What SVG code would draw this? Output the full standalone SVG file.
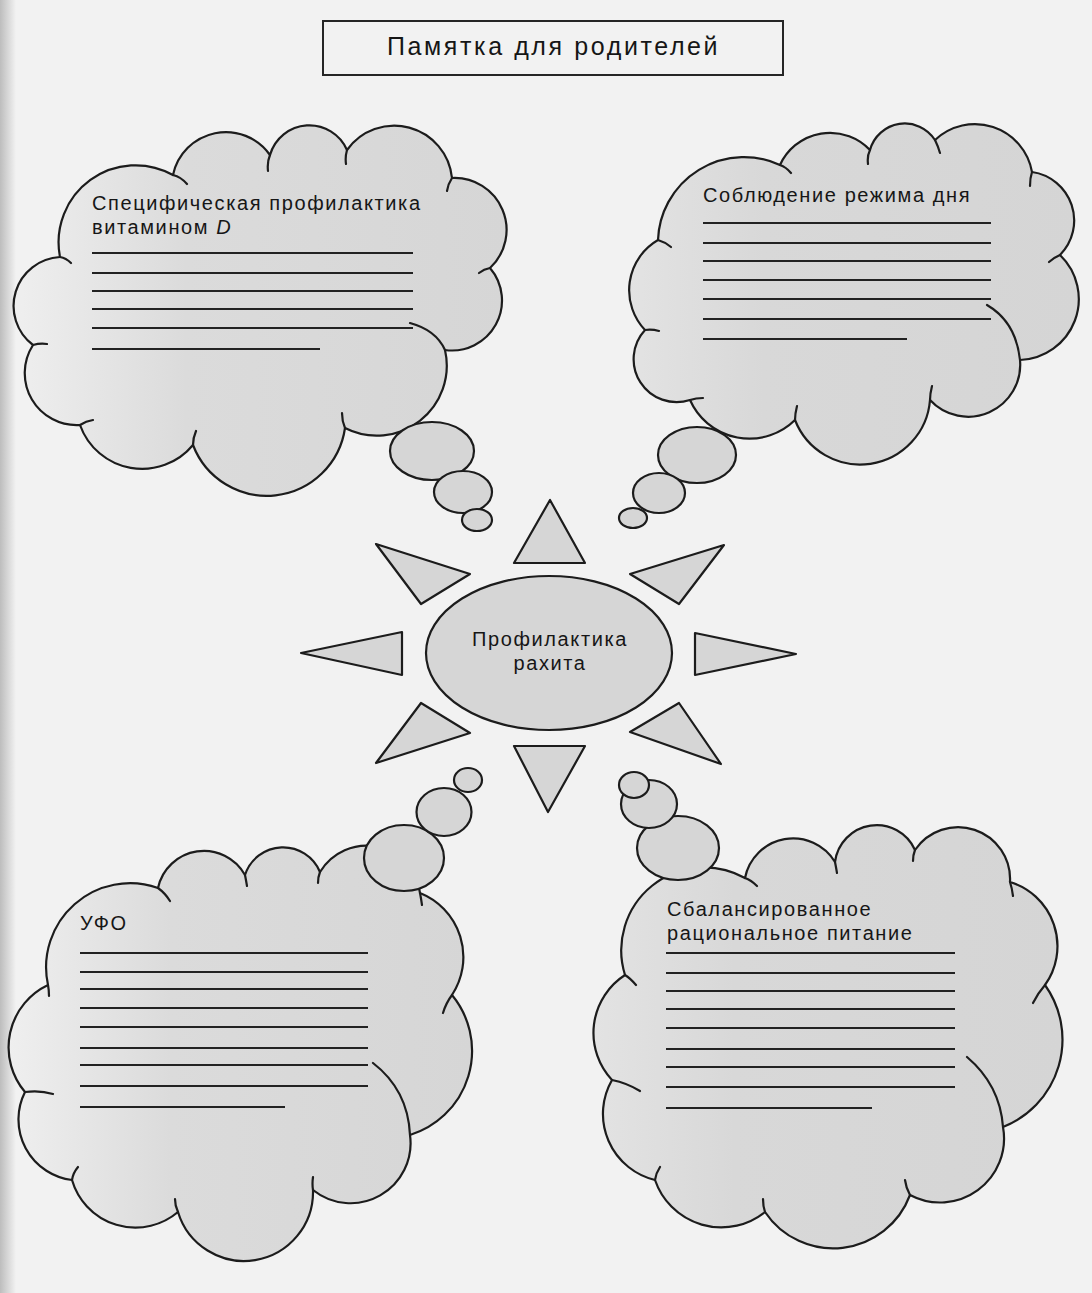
<svg xmlns="http://www.w3.org/2000/svg" width="1092" height="1293" viewBox="0 0 1092 1293">
<defs>
<linearGradient id="pageEdge" x1="0" y1="0" x2="1" y2="0">
<stop offset="0" stop-color="#bdbdbd"/>
<stop offset="1" stop-color="#f2f2f2"/>
</linearGradient>
<linearGradient id="cloudFill" x1="0" y1="0" x2="1" y2="0">
<stop offset="0" stop-color="#efefef"/>
<stop offset="0.35" stop-color="#dbdbdb"/>
<stop offset="1" stop-color="#d6d6d6"/>
</linearGradient>
<linearGradient id="cloudFill2" x1="0" y1="0" x2="1" y2="0">
<stop offset="0" stop-color="#e3e3e3"/>
<stop offset="0.3" stop-color="#d8d8d8"/>
<stop offset="1" stop-color="#d5d5d5"/>
</linearGradient>
</defs>
<style>
.outline{stroke:#1c1c1c;stroke-width:2.2;stroke-linejoin:round;stroke-linecap:round}
.shape{fill:#d6d6d6;stroke:#1c1c1c;stroke-width:2.2;stroke-linejoin:round}
.tail{fill:none;stroke:#1c1c1c;stroke-width:2.2;stroke-linecap:round}
.rule{stroke:#222;stroke-width:1.8}
.lbl{font-family:"Liberation Sans",Arial,sans-serif;font-size:20px;letter-spacing:1.6px;fill:#161616}
.title{font-family:"Liberation Sans",Arial,sans-serif;font-size:25px;letter-spacing:2.6px;fill:#161616}
</style>
<rect x="0" y="0" width="1092" height="1293" fill="#f2f2f2"/>
<rect x="0" y="0" width="16" height="1293" fill="url(#pageEdge)"/>

<g id="title">
<rect x="323" y="21" width="460" height="54" fill="none" stroke="#262626" stroke-width="2"/>
<text class="title" x="387" y="55">Памятка для родителей</text>
</g>

<g id="cloud-vitamin-d">
<path class="outline" fill="url(#cloudFill)" d="M 60 257 A 77 77 0 0 1 173 175 A 54 54 0 0 1 270 155 A 41 41 0 0 1 347 150 A 58 58 0 0 1 452 178 A 52 52 0 0 1 490 268 A 50 50 0 0 1 445 350 A 70 70 0 0 1 345 428 A 79 79 0 0 1 193 445 A 66 66 0 0 1 80 425 A 52 52 0 0 1 33 345 A 49 49 0 0 1 60 257 Z"/>
<path class="tail" d="M 173 175 Q 181 177 187 184 M 270 155 Q 267 162 268 171 M 347 150 Q 345 157 346 164 M 452 178 Q 448 184 447 191 M 490 268 Q 484 269 479 273 M 345 428 Q 342 421 342 413 M 193 445 Q 193 438 196 431 M 80 425 Q 86 421 93 420 M 33 345 Q 40 343 47 344 M 60 257 Q 66 258 71 263 M 410 323 Q 436 330 445 350"/>
<text class="lbl" x="92" y="210">Специфическая профилактика</text>
<text class="lbl" x="92" y="234">витамином <tspan font-style="italic">D</tspan></text>
<g class="rule">
<line x1="92" y1="253" x2="413" y2="253"/>
<line x1="92" y1="273" x2="413" y2="273"/>
<line x1="92" y1="291" x2="413" y2="291"/>
<line x1="92" y1="309" x2="413" y2="309"/>
<line x1="92" y1="328" x2="413" y2="328"/>
<line x1="92" y1="349" x2="320" y2="349"/>
</g>
</g>

<g id="cloud-regime">
<path class="outline" fill="url(#cloudFill2)" d="M 658 240 A 86 86 0 0 1 780 165 A 55 55 0 0 1 870 150 A 36 36 0 0 1 935 140 A 58 58 0 0 1 1032 172 A 49 49 0 0 1 1060 255 A 61 61 0 0 1 1020 360 A 52 52 0 0 1 930 400 A 70 70 0 0 1 795 420 A 65 65 0 0 1 690 400 A 43 43 0 0 1 645 330 A 58 58 0 0 1 658 240 Z"/>
<path class="tail" d="M 658 240 Q 665 242 671 247 M 780 165 Q 786 167 791 173 M 870 150 Q 867 156 868 164 M 935 140 Q 938 146 940 153 M 1032 172 Q 1030 178 1030 186 M 1060 255 Q 1055 257 1049 262 M 930 400 Q 930 394 932 386 M 795 420 Q 795 414 797 406 M 690 400 Q 696 398 703 398 M 645 330 Q 652 329 659 331 M 987 305 Q 1016 322 1020 360"/>
<text class="lbl" x="703" y="202">Соблюдение режима дня</text>
<g class="rule">
<line x1="703" y1="223" x2="991" y2="223"/>
<line x1="703" y1="243" x2="991" y2="243"/>
<line x1="703" y1="261" x2="991" y2="261"/>
<line x1="703" y1="280" x2="991" y2="280"/>
<line x1="703" y1="299" x2="991" y2="299"/>
<line x1="703" y1="319" x2="991" y2="319"/>
<line x1="703" y1="339" x2="907" y2="339"/>
</g>
</g>

<g id="cloud-ufo">
<path class="outline" fill="url(#cloudFill)" d="M 48 985 A 84 84 0 0 1 158 888 A 47 47 0 0 1 245 875 A 40 40 0 0 1 320 872 A 54 54 0 0 1 420 893 A 69 69 0 0 1 452 995 A 88 88 0 0 1 410 1135 A 60 60 0 0 1 313 1190 A 69 69 0 0 1 178 1212 A 66 66 0 0 1 72 1180 A 61 61 0 0 1 25 1092 A 69 69 0 0 1 48 985 Z"/>
<path class="tail" d="M 48 985 Q 49 990 49 996 M 158 888 Q 165 893 170 901 M 245 875 Q 246 880 247 886 M 320 872 Q 318 877 318 883 M 420 893 Q 421 898 422 905 M 452 995 Q 446 1003 443 1013 M 313 1190 Q 312 1184 313 1177 M 178 1212 Q 175 1206 175 1199 M 72 1180 Q 73 1173 78 1167 M 25 1092 Q 40 1090 53 1094 M 373 1063 Q 408 1090 410 1135"/>
<text class="lbl" x="80" y="930">УФО</text>
<g class="rule">
<line x1="80" y1="953" x2="368" y2="953"/>
<line x1="80" y1="972" x2="368" y2="972"/>
<line x1="80" y1="989" x2="368" y2="989"/>
<line x1="80" y1="1008" x2="368" y2="1008"/>
<line x1="80" y1="1027" x2="368" y2="1027"/>
<line x1="80" y1="1048" x2="368" y2="1048"/>
<line x1="80" y1="1065" x2="368" y2="1065"/>
<line x1="80" y1="1086" x2="368" y2="1086"/>
<line x1="80" y1="1107" x2="285" y2="1107"/>
</g>
</g>

<g id="cloud-nutrition">
<path class="outline" fill="url(#cloudFill2)" d="M 625 975 A 83 83 0 0 1 745 878 A 49 49 0 0 1 835 862 A 42 42 0 0 1 915 850 A 52 52 0 0 1 1010 882 A 67 67 0 0 1 1045 985 A 94 94 0 0 1 1003 1127 A 64 64 0 0 1 910 1195 A 82 82 0 0 1 765 1212 A 70 70 0 0 1 655 1180 A 68 68 0 0 1 612 1080 A 69 69 0 0 1 625 975 Z"/>
<path class="tail" d="M 625 975 Q 630 978 636 985 M 745 878 Q 751 880 757 886 M 835 862 Q 836 867 837 873 M 915 850 Q 913 855 913 861 M 1010 882 Q 1012 888 1013 896 M 1045 985 Q 1038 993 1033 1003 M 910 1195 Q 906 1188 905 1180 M 765 1212 Q 763 1206 763 1199 M 655 1180 Q 656 1173 660 1167 M 612 1080 Q 627 1083 640 1091 M 967 1057 Q 1000 1085 1003 1127"/>
<text class="lbl" x="667" y="916">Сбалансированное</text>
<text class="lbl" x="667" y="940">рациональное питание</text>
<g class="rule">
<line x1="666" y1="953" x2="955" y2="953"/>
<line x1="666" y1="973" x2="955" y2="973"/>
<line x1="666" y1="991" x2="955" y2="991"/>
<line x1="666" y1="1009" x2="955" y2="1009"/>
<line x1="666" y1="1028" x2="955" y2="1028"/>
<line x1="666" y1="1049" x2="955" y2="1049"/>
<line x1="666" y1="1067" x2="955" y2="1067"/>
<line x1="666" y1="1087" x2="955" y2="1087"/>
<line x1="666" y1="1108" x2="872" y2="1108"/>
</g>
</g>

<g id="center">
<g id="rays">
<polygon class="shape" points="550,500 514,563 585,563"/>
<polygon class="shape" points="376,544 470,574 421,604"/>
<polygon class="shape" points="724,545 630,574 679,604"/>
<polygon class="shape" points="301,653 402,632 402,675"/>
<polygon class="shape" points="796,654 695,633 695,675"/>
<polygon class="shape" points="376,763 421,703 470,733"/>
<polygon class="shape" points="721,764 679,703 630,732"/>
<polygon class="shape" points="548,812 514,746 585,746"/>
</g>
<ellipse class="shape" cx="549" cy="653" rx="123" ry="77"/>
<text class="lbl" x="550" y="646" text-anchor="middle" letter-spacing="2">Профилактика</text>
<text class="lbl" x="550" y="670" text-anchor="middle" letter-spacing="1.6">рахита</text>
</g>

<g id="connectors">
<g id="bubbles-vitamin-d">
<ellipse class="shape" cx="432" cy="451" rx="42" ry="29"/>
<ellipse class="shape" cx="463" cy="492" rx="29" ry="21"/>
<ellipse class="shape" cx="477" cy="520" rx="15" ry="11"/>
</g>
<g id="bubbles-regime">
<ellipse class="shape" cx="697" cy="455" rx="39" ry="28"/>
<ellipse class="shape" cx="659" cy="493" rx="26" ry="20"/>
<ellipse class="shape" cx="633" cy="518" rx="14" ry="10"/>
</g>
<g id="bubbles-ufo">
<ellipse class="shape" cx="404" cy="858" rx="40" ry="33"/>
<ellipse class="shape" cx="444" cy="812" rx="27.5" ry="24"/>
<ellipse class="shape" cx="468" cy="780" rx="14" ry="12"/>
</g>
<g id="bubbles-nutrition">
<ellipse class="shape" cx="678" cy="848" rx="41" ry="32"/>
<ellipse class="shape" cx="649" cy="804" rx="28" ry="24"/>
<ellipse class="shape" cx="634" cy="785" rx="15" ry="13"/>
</g>
</g>
</svg>
